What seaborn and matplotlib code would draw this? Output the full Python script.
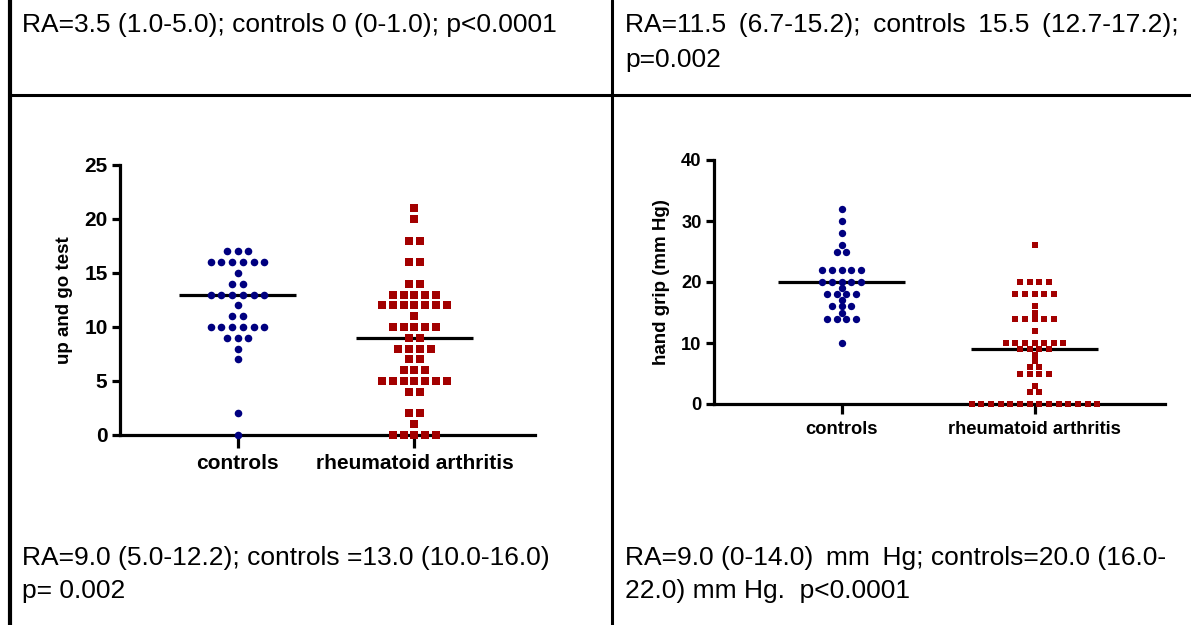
import numpy as np
import pandas as pd
import matplotlib
matplotlib.use("Agg")
import matplotlib.pyplot as plt
import seaborn as sns
from matplotlib.lines import Line2D

# groups
groups = ["controls", "rheumatoid arthritis"]

# up and go test: value levels and how many patients sit on each level
tug_ctrl_levels = [17, 16, 15, 14, 13, 12, 11, 10, 9, 8, 7, 2, 0]
tug_ctrl_counts = [3, 6, 1, 2, 6, 1, 2, 6, 3, 1, 1, 1, 1]
tug_ra_levels = [21, 20, 18, 16, 14, 13, 12, 11, 10, 9, 8, 7, 6, 5, 4, 2, 1, 0]
tug_ra_counts = [1, 1, 2, 2, 2, 5, 7, 1, 5, 2, 4, 2, 3, 7, 2, 2, 1, 5]
tug_medians = [13.0, 9.0]

# hand grip (mm Hg)
grip_ctrl_levels = [32, 30, 28, 26, 25, 22, 20, 19, 18, 17, 16, 15, 14, 10]
grip_ctrl_counts = [1, 1, 1, 1, 2, 5, 5, 1, 4, 1, 3, 1, 4, 1]
grip_ra_levels = [26, 20, 18, 16, 15, 14, 12, 10, 9, 8, 7, 6, 5, 3, 2, 0]
grip_ra_counts = [1, 4, 5, 1, 1, 5, 1, 7, 4, 1, 1, 2, 4, 1, 2, 14]
grip_medians = [20.0, 9.0]

# summary texts (thin spaces to mimic the justified layout)
T = "\u2009"
txt_top_left = "RA=3.5 (1.0-5.0); controls 0 (0-1.0); p<0.0001"
txt_top_right = [f"RA=11.5 {T}(6.7-15.2); {T}controls {T}15.5 {T}(12.7-17.2);", "p=0.002"]
txt_bot_left = ["RA=9.0 (5.0-12.2); controls =13.0 (10.0-16.0)", "p= 0.002"]
txt_bot_right = [f"RA=9.0 (0-14.0) {T}mm {T}Hg; controls=20.0 (16.0-", "22.0) mm Hg.  p<0.0001"]

sns.set_style("ticks")
plt.rcParams['font.family'] = ['Liberation Sans', 'DejaVu Sans']
plt.rcParams.update({"text.color": "black", "axes.labelcolor": "black",
                     "xtick.color": "black", "ytick.color": "black"})

BLUE = "#000080"
RED = "#a30000"


def make_df(ctrl_lv, ctrl_n, ra_lv, ra_n, step):
    rows = []
    for i, (lv, n) in enumerate([(ctrl_lv, ctrl_n), (ra_lv, ra_n)]):
        for v, c in zip(lv, n):
            offs = (np.arange(c) - (c - 1) / 2) * step
            for o in offs:
                rows.append({"group": groups[i], "value": v, "xpos": i + o})
    return pd.DataFrame(rows)


def dot_panel(ax, df, medians, ymax, yticks, ylabel, fs_tick, fs_lab, xlim, msize,
              xtick_len):
    ctrl = df[df["group"] == groups[0]]
    ra = df[df["group"] == groups[1]]
    sns.scatterplot(x=ctrl["xpos"], y=ctrl["value"], color=BLUE, marker="o",
                    s=msize, linewidth=0, ax=ax, clip_on=False, zorder=4)
    sns.scatterplot(x=ra["xpos"], y=ra["value"], color=RED, marker="s",
                    s=msize * 0.85, linewidth=0, ax=ax, clip_on=False, zorder=4)
    for i, m in enumerate(medians):
        ax.hlines(m, i - 0.33, i + 0.33, color="black", lw=2.3, zorder=3)
    ax.set_xlim(*xlim)
    ax.set_ylim(0, ymax)
    ax.set_yticks(yticks)
    ax.set_xticks([0, 1])
    ax.set_xticklabels(groups)
    ax.set_xlabel("")
    ax.set_ylabel(ylabel, fontsize=fs_lab, fontweight="bold", labelpad=8)
    sns.despine(ax=ax)
    for s in ["left", "bottom"]:
        ax.spines[s].set_linewidth(2.3)
        ax.spines[s].set_color("black")
    ax.tick_params(axis="y", left=True, length=6, width=2.3, direction="out", pad=3,
                   labelsize=fs_tick)
    ax.tick_params(axis="x", bottom=True, length=xtick_len, width=2.3, direction="out",
                   pad=5, labelsize=fs_tick)
    for t in ax.get_xticklabels() + ax.get_yticklabels():
        t.set_fontweight("bold")


fig = plt.figure(figsize=(11.91, 6.25), dpi=100)

ax1 = fig.add_axes([120 / 1191, 1 - 435 / 625, 415 / 1191, 270 / 625])
df1 = make_df(tug_ctrl_levels, tug_ctrl_counts, tug_ra_levels, tug_ra_counts, 0.0605)
dot_panel(ax1, df1, tug_medians, 25, [0, 5, 10, 15, 20, 25], "up and go test",
          15, 13.5, (-0.664, 1.681), 30, 9)

ax2 = fig.add_axes([714 / 1191, 1 - 404 / 625, 451 / 1191, 244 / 625])
df2 = make_df(grip_ctrl_levels, grip_ctrl_counts, grip_ra_levels, grip_ra_counts, 0.050)
dot_panel(ax2, df2, grip_medians, 40, [0, 10, 20, 30, 40], "hand grip (mm Hg)",
          13.2, 13.5, (-0.661, 1.676), 28, 7.5)

# table frame
for (x0, y0, x1, y1, lw) in [(10, 0, 10, 625, 3.0), (612, 0, 612, 625, 2.2),
                             (10, 95, 1191, 95, 2.2)]:
    fig.add_artist(Line2D([x0 / 1191, x1 / 1191], [1 - y0 / 625, 1 - y1 / 625],
                          color="black", lw=lw, transform=fig.transFigure))

fs = 19
fig.text(22 / 1191, 1 - 25 / 625, txt_top_left, fontsize=fs, va="center")
fig.text(625 / 1191, 1 - 25 / 625, txt_top_right[0], fontsize=fs, va="center")
fig.text(625 / 1191, 1 - 60 / 625, txt_top_right[1], fontsize=fs, va="center")
fig.text(22 / 1191, 1 - 558 / 625, txt_bot_left[0], fontsize=fs, va="center")
fig.text(22 / 1191, 1 - 591 / 625, txt_bot_left[1], fontsize=fs, va="center")
fig.text(625 / 1191, 1 - 558 / 625, txt_bot_right[0], fontsize=fs, va="center")
fig.text(625 / 1191, 1 - 591 / 625, txt_bot_right[1], fontsize=fs, va="center")

fig.savefig("out.png", dpi=100)
